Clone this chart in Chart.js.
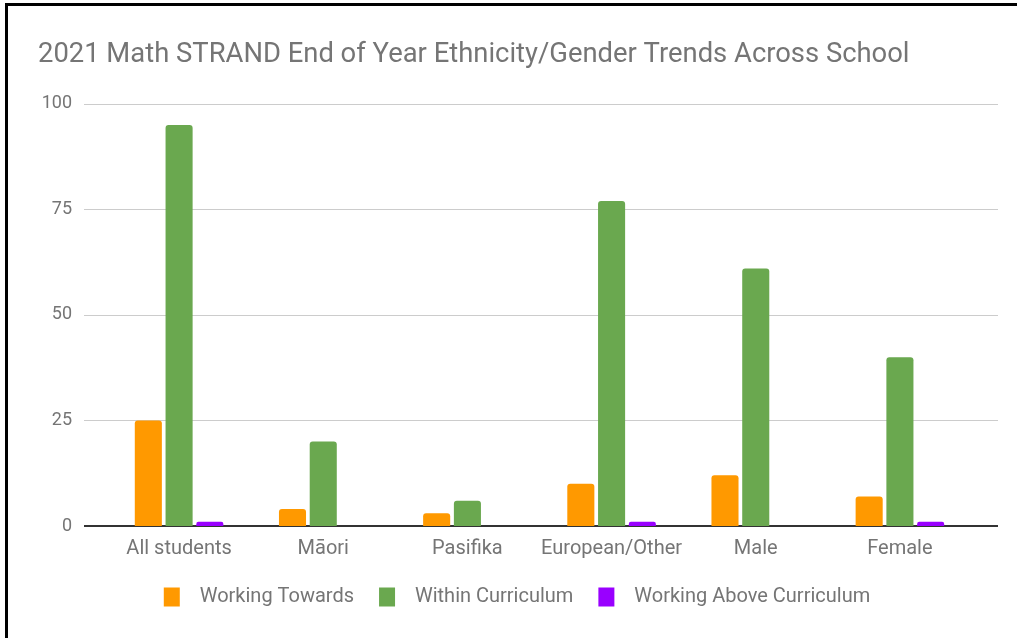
<!DOCTYPE html>
<html>
<head>
<meta charset="utf-8">
<script src="https://cdn.jsdelivr.net/npm/chart.js"></script>
<style>
    html, body { margin: 0; padding: 0; background: #fff; }
    #wrap { position: relative; width: 1017px; height: 638px; overflow: hidden; }
    #frame {
        position: absolute; left: 5px; top: 3px; right: -10px; bottom: -10px;
        border-left: 3px solid #000; border-top: 3px solid #000;
        pointer-events: none;
    }
    canvas { position: absolute; left: 0; top: 0; }
</style>
</head>
<body>
<div id="wrap">
    <canvas id="myChart" width="1017" height="638"></canvas>
    <div id="frame"></div>
</div>
<script>
// =============================================
// 2021 Math STRAND chart
// =============================================

const categories = ["All students", "Māori", "Pasifika", "European/Other", "Male", "Female"];
const workingTowards = [25, 4, 3, 10, 12, 7];
const withinCurriculum = [95, 20, 6, 77, 61, 40];
const workingAbove = [1, 0, 0, 1, 0, 1];
const yTicks = [0, 25, 50, 75, 100];

const textGrey = "#757575";

// google-sheets style gridlines that run past the bars on both sides
const wideGrid = {
    id: "wideGrid",
    beforeDatasetsDraw(chart) {
        const ctx = chart.ctx;
        const area = chart.chartArea;
        const y = chart.scales.y;
        ctx.save();
        yTicks.forEach((v) => {
            const py = Math.round(y.getPixelForValue(v));
            ctx.beginPath();
            if (v === 0) {
                ctx.strokeStyle = "#333333";
                ctx.lineWidth = 2;
            } else {
                ctx.strokeStyle = "#cccccc";
                ctx.lineWidth = 1;
            }
            ctx.moveTo(area.left - 23, py + (v === 0 ? 0 : 0.5));
            ctx.lineTo(area.right + 26, py + (v === 0 ? 0 : 0.5));
            ctx.stroke();
        });
        ctx.restore();
    },
};

// nudge the legend: a bit right and up, like the original
const legendShift = {
    id: "legendShift",
    afterLayout(chart) {
        chart.legend.left += 12;
        chart.legend.right += 12;
        chart.legend.top -= 10;
        chart.legend.bottom -= 10;
    },
};

function makeDataset(label, data, color) {
    return {
        label: label,
        data: data,
        backgroundColor: color,
        borderWidth: 0,
        borderRadius: { topLeft: 3, topRight: 3 },
        borderSkipped: "bottom",
        barPercentage: 0.88,
        categoryPercentage: 0.64,
    };
}

const config = {
    type: "bar",
    data: {
        labels: categories,
        datasets: [
            makeDataset("Working Towards", workingTowards, "#ff9900"),
            makeDataset("Within Curriculum", withinCurriculum, "#6aa84f"),
            makeDataset("Working Above Curriculum", workingAbove, "#9900ff"),
        ],
    },
    options: {
        responsive: false,
        animation: false,
        layout: { padding: { left: 38, right: 45, top: 0, bottom: 11 } },
        plugins: {
            title: {
                display: true,
                text: "2021 Math STRAND End of Year Ethnicity/Gender Trends Across School",
                align: "start",
                color: textGrey,
                font: { family: "Roboto", size: 27.4, weight: "normal" },
                padding: { top: 39, bottom: 32.1 },
            },
            legend: {
                position: "bottom",
                labels: {
                    color: textGrey,
                    font: { family: "Roboto", size: 20 },
                    boxWidth: 16,
                    boxHeight: 19,
                    padding: 25,
                    // a little more room between swatch and text
                    generateLabels(chart) {
                        const items = Chart.defaults.plugins.legend.labels.generateLabels(chart);
                        items.forEach((it) => { it.text = "  " + it.text; });
                        return items;
                    },
                },
            },
            tooltip: { enabled: false },
        },
        scales: {
            x: {
                grid: { display: false, drawTicks: false },
                border: { display: false },
                ticks: {
                    color: textGrey,
                    font: { family: "Roboto", size: 20 },
                    padding: 11,
                    maxRotation: 0,
                },
            },
            y: {
                min: 0,
                max: 100,
                afterFit(scale) { scale.width = 69; },
                afterBuildTicks(scale) {
                    scale.ticks = yTicks.map((v) => ({ value: v }));
                },
                grid: { display: false, drawTicks: false },
                border: { display: false },
                ticks: {
                    color: textGrey,
                    font: { family: "Roboto", size: 18 },
                    padding: 35,
                },
            },
        },
    },
    plugins: [wideGrid, legendShift],
};

new Chart(document.getElementById("myChart"), config);
</script>
</body>
</html>
